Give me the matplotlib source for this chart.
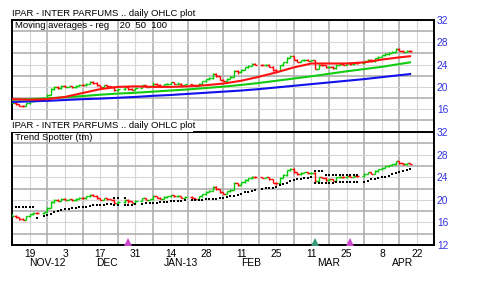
import numpy as np
import pandas as pd
import matplotlib
matplotlib.use('Agg')
import matplotlib.pyplot as plt
from matplotlib.patches import Rectangle

# ---------------- data ----------------
holidays = ['2012-11-22', '2012-12-25', '2013-01-01', '2013-01-21', '2013-02-18', '2013-03-29']
dates = [d for d in pd.bdate_range('2012-11-12', '2013-04-18') if d.strftime('%Y-%m-%d') not in holidays]

opens = [17.4, 17.2, 16.9, 16.6, 16.5,
         17.1, 17.4, 17.7, 17.6,
         17.8, 18.6, 19.6, 20.0, 19.8,
         20.2, 20.0, 20.1, 19.9, 20.2,
         20.4, 20.3, 20.6, 20.9, 20.7,
         20.3, 20.0, 20.3, 20.1, 20.0,
         19.4, 19.6, 20.0, 19.7,
         19.5, 19.8, 20.3, 20.0,
         20.1, 20.6, 20.4, 20.2, 20.5,
         20.6, 20.8, 20.6, 20.6, 20.4,
         20.5, 20.3, 20.2, 20.6,
         21.0, 21.4, 21.6, 22.3, 21.9,
         21.3, 21.1, 21.5, 21.8, 22.9,
         22.6, 23.1, 23.5, 23.8, 24.1,
         24.0, 23.9, 24.0, 23.6,
         23.0, 22.9, 23.9, 24.4, 25.2,
         25.5, 24.9, 24.5, 24.8, 24.9,
         24.7, 24.8, 23.3, 24.0, 23.9,
         23.5, 23.6, 23.4, 24.0, 24.1,
         24.0, 24.2, 24.1, 24.3,
         24.2, 24.6, 24.9, 24.6, 25.1,
         25.4, 25.7, 25.9, 26.1, 26.3,
         26.8, 26.5, 26.3, 26.5]
highs = [17.5, 17.3, 17.0, 16.7, 17.2,
         17.5, 17.8, 17.8, 17.9,
         18.8, 19.8, 20.2, 20.1, 20.3,
         20.3, 20.2, 20.2, 20.3, 20.5,
         20.5, 20.7, 21.0, 21.0, 20.8,
         20.4, 20.4, 20.4, 20.2, 20.1,
         19.7, 20.1, 20.1, 19.8,
         19.9, 20.4, 20.4, 20.2,
         20.9, 20.7, 20.5, 20.6, 20.7,
         20.9, 20.9, 20.8, 20.7, 20.6,
         20.6, 20.4, 20.7, 21.1,
         21.5, 21.8, 22.5, 22.5, 22.0,
         21.4, 21.6, 21.9, 23.1, 23.0,
         23.2, 23.6, 23.9, 24.2, 24.2,
         24.1, 24.1, 24.1, 23.7,
         23.2, 24.0, 24.5, 25.3, 25.7,
         25.6, 25.0, 24.9, 25.0, 25.0,
         24.9, 24.9, 24.1, 24.1, 24.0,
         23.7, 23.7, 24.1, 24.2, 24.2,
         24.3, 24.3, 24.4, 24.4,
         24.7, 25.0, 25.0, 25.2, 25.5,
         25.8, 26.0, 26.2, 26.4, 26.9,
         26.9, 26.6, 26.6, 26.6]
lows = [17.1, 16.8, 16.5, 16.4, 16.5,
        17.0, 17.3, 17.5, 17.5,
        17.8, 18.5, 19.4, 19.7, 19.7,
        19.9, 19.9, 19.8, 19.8, 20.1,
        20.2, 20.2, 20.5, 20.6, 20.2,
        19.9, 19.9, 20.0, 19.9, 19.2,
        19.3, 19.5, 19.5, 19.4,
        19.4, 19.8, 19.9, 19.9,
        20.0, 20.3, 20.1, 20.1, 20.4,
        20.5, 20.5, 20.5, 20.3, 20.3,
        20.2, 20.1, 20.1, 20.5,
        20.9, 21.3, 21.5, 21.8, 21.2,
        21.0, 21.0, 21.4, 21.7, 22.4,
        22.5, 23.0, 23.4, 23.7, 23.9,
        23.8, 23.8, 23.5, 22.9,
        22.7, 22.8, 23.8, 24.3, 25.1,
        24.8, 24.4, 24.4, 24.7, 24.6,
        24.6, 23.2, 23.2, 23.8, 23.4,
        23.4, 23.3, 23.3, 23.9, 23.9,
        23.9, 24.0, 24.0, 24.1,
        24.1, 24.5, 24.5, 24.5, 25.0,
        25.3, 25.6, 25.8, 26.0, 26.2,
        26.4, 26.2, 26.2, 26.3]
closes = [17.2, 16.9, 16.6, 16.5, 17.1,
          17.4, 17.7, 17.6, 17.8,
          18.6, 19.6, 20.0, 19.8, 20.2,
          20.0, 20.1, 19.9, 20.2, 20.4,
          20.3, 20.6, 20.9, 20.7, 20.3,
          20.0, 20.3, 20.1, 20.0, 19.4,
          19.6, 20.0, 19.7, 19.5,
          19.8, 20.3, 20.0, 20.1,
          20.6, 20.4, 20.2, 20.5, 20.6,
          20.8, 20.6, 20.6, 20.4, 20.5,
          20.3, 20.2, 20.6, 21.0,
          21.4, 21.6, 22.3, 21.9, 21.3,
          21.1, 21.5, 21.8, 22.9, 22.6,
          23.1, 23.5, 23.8, 24.1, 24.0,
          23.9, 24.0, 23.6, 23.0,
          22.9, 23.9, 24.4, 25.2, 25.5,
          24.9, 24.5, 24.8, 24.9, 24.7,
          24.8, 23.3, 24.0, 23.9, 23.5,
          23.6, 23.4, 24.0, 24.1, 24.0,
          24.2, 24.1, 24.3, 24.2,
          24.6, 24.9, 24.6, 25.1, 25.4,
          25.7, 25.9, 26.1, 26.3, 26.8,
          26.5, 26.3, 26.5, 26.4]

# moving averages read at weekly points
ma_dates = ['2012-11-12', '2012-11-19', '2012-11-26', '2012-12-03', '2012-12-10', '2012-12-17',
            '2012-12-24', '2012-12-31', '2013-01-07', '2013-01-14', '2013-01-21', '2013-01-28',
            '2013-02-04', '2013-02-11', '2013-02-18', '2013-02-25', '2013-03-04', '2013-03-11',
            '2013-03-18', '2013-03-25', '2013-04-01', '2013-04-08', '2013-04-15', '2013-04-18']
ma20 = [17.8, 17.7, 17.8, 18.2, 18.9, 19.6, 20.0, 20.1, 20.0, 20.0, 20.1, 20.3,
        20.6, 21.1, 21.8, 22.6, 23.5, 24.2, 24.2, 24.2, 24.4, 24.9, 25.3, 25.5]
ma50 = [17.7, 17.8, 17.95, 18.15, 18.35, 18.6, 18.8, 18.95, 19.15, 19.35, 19.55, 19.8,
        20.05, 20.35, 20.7, 21.1, 21.5, 21.9, 22.35, 22.8, 23.2, 23.6, 24.1, 24.4]
ma100 = [17.3, 17.4, 17.5, 17.65, 17.8, 17.9, 18.05, 18.2, 18.4, 18.55, 18.75, 18.95,
         19.15, 19.35, 19.6, 19.9, 20.2, 20.5, 20.8, 21.1, 21.4, 21.75, 22.1, 22.3]

N = None
trend_lower = [N, N, N, N, N, N, N, 16.7, 17.2,
               17.3, 17.5, 17.9, 18.1, 18.2,
               18.3, 18.4, 18.5, 18.6, 18.65,
               18.7, 18.8, 18.9, 19.0, 19.05,
               19.1, 19.15, 19.2, 19.25, 19.1,
               19.1, 19.1, 19.1, 19.15,
               19.2, 19.3, 19.35, 19.4,
               19.45, 19.5, 19.55, 19.6, 19.65,
               19.7, 19.75, 19.8, 19.85, 19.9,
               19.95, 20.0, 20.0, 20.05,
               20.1, 20.1, 20.15, 20.2, 20.3,
               20.4, 20.5, 20.6, 20.75, 20.9,
               21.1, 21.3, 21.45, 21.6, 21.8,
               22.0, 22.05, 22.1, 22.15,
               22.2, 22.6, 22.8, 23.0, 23.3,
               23.5, 23.6, 23.7, 23.8, 23.9,
               24.0, 22.9, 22.9, 22.9, 22.9,
               22.9, 22.9, 23.2, 23.2, 23.2,
               23.2, 23.2, 23.2, 23.2,
               23.2, 23.4, 23.6, 23.7, 23.8,
               24.0, 24.1, 24.3, 24.5, 24.7,
               24.9, 25.1, 25.3, 25.5]
trend_upper = ([18.7] * 7 + [N] * 21 + [20.4, 20.4, 20.3] + [N] * 50
               + [25.1, 25.1, 25.1] + [24.4] * 10 + [N] * 14)

signal_dates = ['2012-12-27', '2013-03-12', '2013-03-26']
signal_colors = ['#cc44cc', '#339977', '#cc44cc']

tick_dates = ['2012-11-19', '2012-12-03', '2012-12-17', '2012-12-31', '2013-01-14', '2013-01-28',
              '2013-02-11', '2013-02-25', '2013-03-11', '2013-03-25', '2013-04-08', '2013-04-22']
month_labels = ['NOV-12', 'DEC', 'JAN-13', 'FEB', 'MAR', 'APR']
month_anchor = ['2012-11-26', '2012-12-19', '2013-01-17', '2013-02-14', '2013-03-18', '2013-04-16']

# ---------------- helpers ----------------
ORIGIN = '2012-11-19'
def xpos(ds):
    return np.busday_count(ORIGIN, [pd.Timestamp(d).strftime('%Y-%m-%d') for d in ds])

FONT = ['Liberation Sans', 'DejaVu Sans']
plt.rcParams['font.family'] = FONT
FS = 6.8
W, H = 480, 282
fig = plt.figure(figsize=(W / 100, H / 100), dpi=100)

L, R = 11.5, 434
ax1 = fig.add_axes([L / W, 1 - 131.5 / H, (R - L) / W, (131.5 - 20) / H])
ax2 = fig.add_axes([L / W, 1 - 245 / H, (R - L) / W, (245 - 132) / H])

xb = xpos(dates)
xlo, xhi = -5.2, 114.8
green, red = '#00cc00', '#ff0000'

def draw_ohlc(ax):
    prev = None
    for x, o, h, l, c in zip(xb, opens, highs, lows, closes):
        col = green if (prev is None or c >= prev) else red
        ax.plot([x, x], [l, h], color=col, lw=1.0, solid_capstyle='butt', zorder=3)
        ax.plot([x - 0.6, x], [o, o], color=col, lw=1.0, solid_capstyle='butt', zorder=3)
        ax.plot([x, x + 0.6], [c, c], color=col, lw=1.0, solid_capstyle='butt', zorder=3)
        prev = c

def grid(ax):
    mondays = np.arange(-5, 115, 5)
    for m in mondays:
        dark = (m // 5) % 2 != 0
        ax.axvline(m, color='#aaaaaa' if dark else '#d6d6d6', lw=1.1 if dark else 0.8, zorder=0)
    for v in range(12, 33, 2):
        dark = v % 4 == 2
        ax.axhline(v, color='#aaaaaa' if dark else '#d6d6d6', lw=1.1 if dark else 0.8, zorder=0)

for ax in (ax1, ax2):
    ax.set_xlim(xlo, xhi)
    ax.set_ylim(12, 32)
    grid(ax)
    draw_ohlc(ax)
    ax.yaxis.tick_right()
    ax.tick_params(axis='y', length=0, pad=2, labelsize=FS + 0.6, labelcolor='#3333dd')
    for s in ax.spines.values():
        s.set_linewidth(1.4)
        s.set_color('black')
ax1.spines['bottom'].set_visible(False)

ax1.set_yticks([16, 20, 24, 28, 32])
ax2.set_yticks([12, 16, 20, 24, 28, 32])
ax1.set_xticks([])

xm = xpos(ma_dates)
ax1.plot(xm, ma100, color='#1111ee', lw=1.5, zorder=4)
ax1.plot(xm, ma50, color='#11cc11', lw=1.5, zorder=4)
ax1.plot(xm, ma20, color='#ff1111', lw=1.5, zorder=4)

lo = np.array([np.nan if v is None else v for v in trend_lower], dtype=float)
up = np.array([np.nan if v is None else v for v in trend_upper], dtype=float)
ax2.plot(xb, lo, ls='none', marker='s', ms=1.7, color='black', mew=0, zorder=5)
ax2.plot(xb, up, ls='none', marker='s', ms=1.7, color='black', mew=0, zorder=5)

for d, c in zip(signal_dates, signal_colors):
    ax2.plot(xpos([d]), [12.55], marker='^', ms=5.5, color=c, mew=0, ls='none', zorder=6, clip_on=False)

ax2.set_xticks(xpos(tick_dates))
ax2.set_xticklabels([str(pd.Timestamp(d).day) for d in tick_dates])
ax2.tick_params(axis='x', length=0, pad=3, labelsize=FS + 0.6)
for lab, d in zip(month_labels, month_anchor):
    ax2.text(xpos([d])[0], -0.16, lab, transform=ax2.get_xaxis_transform(),
             ha='center', va='center', fontsize=FS + 0.6)

# white band with second title
fig.patches.append(Rectangle((0, 1 - 132 / H), 193 / W, 12 / H, transform=fig.transFigure,
                             facecolor='white', edgecolor='none', zorder=5))
title = 'IPAR - INTER PARFUMS .. daily OHLC plot'
fig.text(12 / W, 1 - 14 / H, title, fontsize=FS, va='center', ha='left')
fig.text(12 / W, 1 - 126 / H, title, fontsize=FS, va='center', ha='left', zorder=6)
fig.text(15 / W, 1 - 25.5 / H, 'Moving averages - reg    20  50  100', fontsize=FS,
         va='center', ha='left', zorder=6)
fig.text(15 / W, 1 - 137.5 / H, 'Trend Spotter (tm)', fontsize=FS, va='center', ha='left', zorder=6)

fig.savefig('out.png', dpi=100, facecolor='white')
